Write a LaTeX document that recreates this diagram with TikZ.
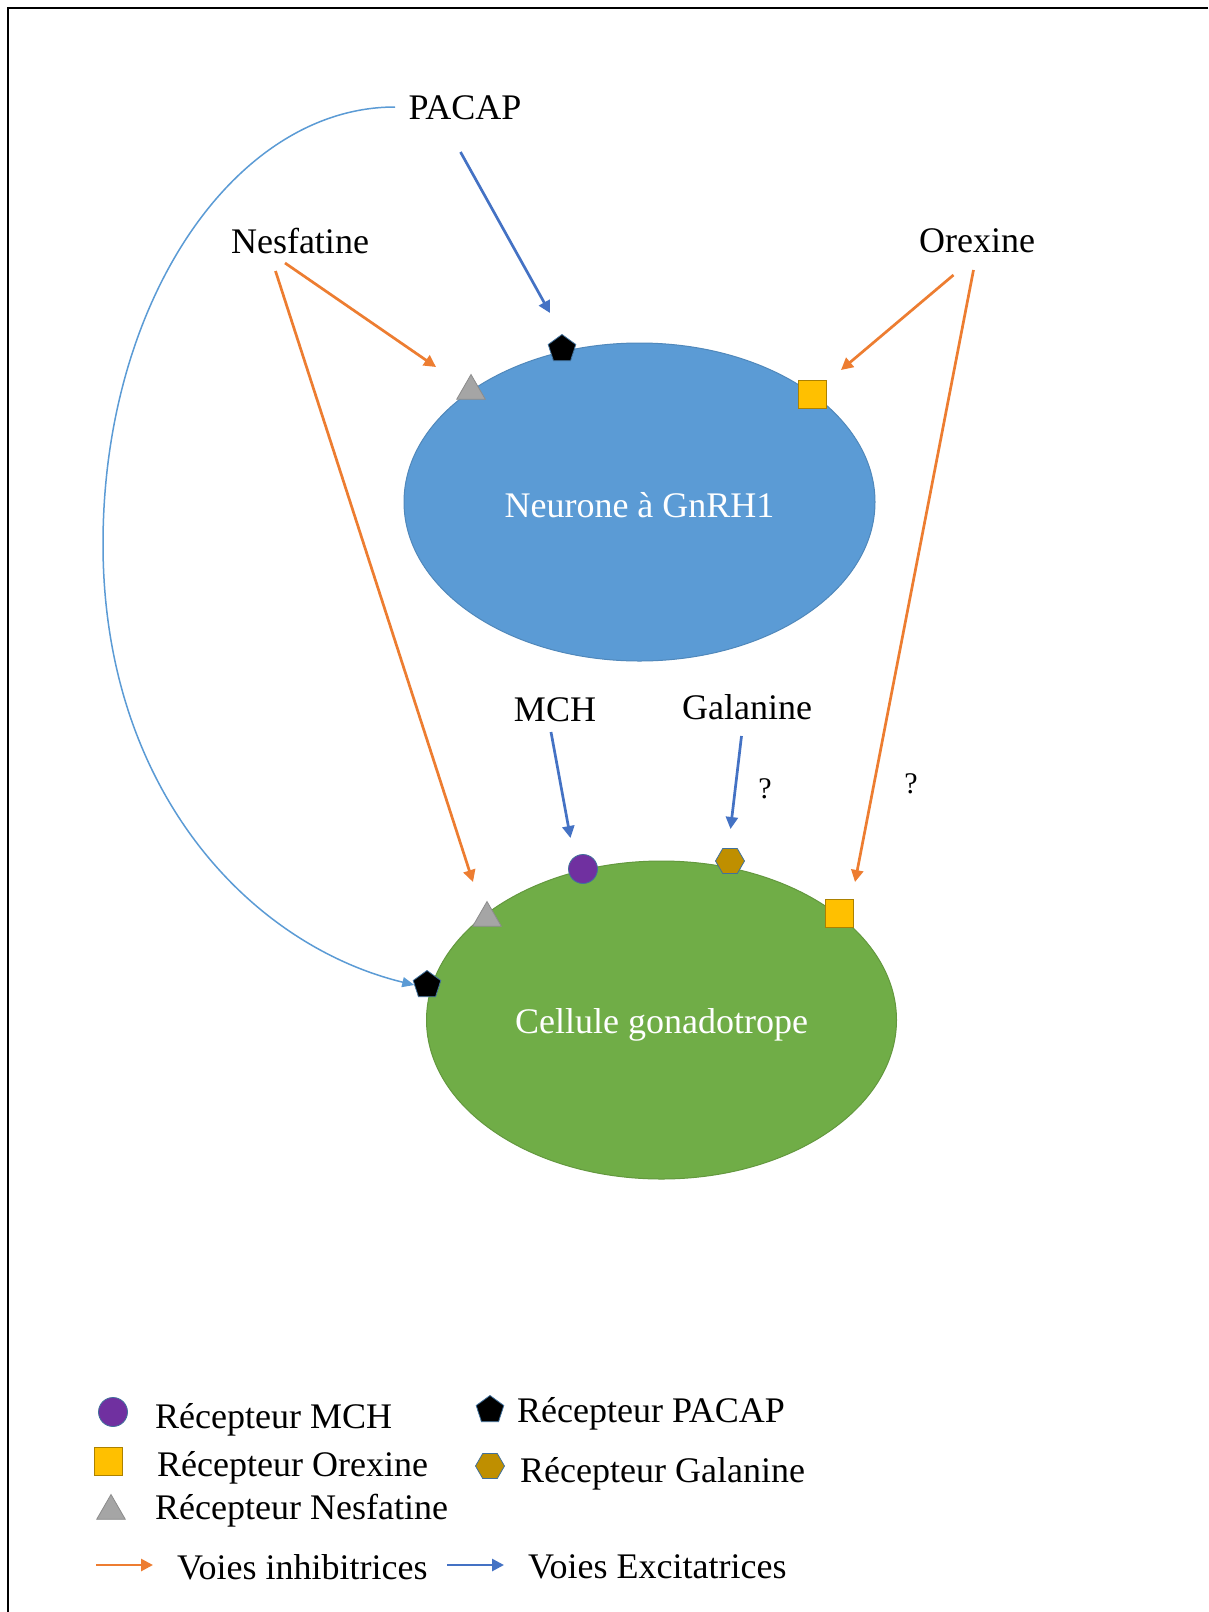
\documentclass[tikz,border=0pt]{standalone}
\usepackage{fontspec}
\setmainfont{Liberation Serif}
\usetikzlibrary{shapes.geometric,arrows.meta}
\definecolor{cellblue}{HTML}{5B9BD5}
\definecolor{cellgreen}{HTML}{70AD47}
\definecolor{inhib}{HTML}{ED7D31}
\definecolor{excit}{HTML}{4472C4}
\definecolor{curveblue}{HTML}{5B9BD5}
\definecolor{recgray}{HTML}{A5A5A5}
\definecolor{recyellow}{HTML}{FFC000}
\definecolor{recpurple}{HTML}{7030A0}
\definecolor{recgold}{HTML}{BF8F00}
\definecolor{recedge}{HTML}{41719C}
\begin{document}
\begin{tikzpicture}[x=1pt,y=-1pt,
 lbl/.style={font=\fontsize{36}{40}\selectfont, inner sep=0pt},
 qlbl/.style={font=\fontsize{30}{34}\selectfont, inner sep=0pt},
 cell/.style={ellipse, inner sep=0pt, text=white, font=\fontsize{36}{40}\selectfont, line width=1pt},
 inh/.style={draw=inhib, line width=2.7pt, -{Triangle[length=12pt,width=12pt]}},
 exc/.style={draw=excit, line width=2.7pt, -{Triangle[length=12pt,width=12pt]}},
 pacrec/.style={regular polygon, regular polygon sides=5, minimum size=29pt, inner sep=0pt, fill=black, draw=recedge, line width=0.8pt},
 nesrec/.style={regular polygon, regular polygon sides=3, minimum size=33pt, inner sep=0pt, fill=recgray, draw=recgray!85!black, line width=0.8pt},
 orxrec/.style={rectangle, minimum width=28pt, minimum height=28pt, inner sep=0pt, fill=recyellow, draw=recgold!90!black, line width=0.8pt},
 mchrec/.style={circle, minimum size=29pt, inner sep=0pt, fill=recpurple, draw=recedge, line width=0.8pt},
 galrec/.style={regular polygon, regular polygon sides=6, minimum size=29pt, inner sep=0pt, fill=recgold, draw=recedge, line width=0.8pt},
 legtext/.style={font=\fontsize{36}{40}\selectfont, inner sep=0pt, anchor=west}
]
\useasboundingbox (0,0) rectangle (1208,1612);
\fill[white] (0,0) rectangle (1208,1612);
% frame
\draw[line width=2pt] (1208,8) -- (8,8) -- (8,1612);

% cells
\node[cell, fill=cellblue, draw=cellblue!88!black, minimum width=471pt, minimum height=318pt] (neuron) at (639.5,502) {};
\node[text=white, font=\fontsize{36}{40}\selectfont, inner sep=0pt] (neurontxt) at (neuron.center) [yshift=-3pt] {Neurone à GnRH1};
\node[cell, fill=cellgreen, draw=cellgreen!88!black, minimum width=470pt, minimum height=318pt] (gonado) at (661.5,1020) {};
\node[text=white, font=\fontsize{36}{40}\selectfont, inner sep=0pt] (gonadotxt) at (gonado.center) [yshift=-5pt] {Cellule gonadotrope};

% receptors on neuron
\node[pacrec] (npac) at (562,349) {};
\node[nesrec] (nnes) at (471,391) {};
\node[orxrec] (norx) at (812,394) {};
% receptors on gonadotrope
\node[mchrec] (gmch) at (583,869) {};
\node[galrec] (ggal) at (730,861) {};
\node[nesrec] (gnes) at (487,918) {};
\node[orxrec] (gorx) at (839,913) {};
\node[pacrec] (gpac) at (427,985) {};

% labels
\node[lbl] (pacap) at (465,108) {PACAP};
\node[lbl] (nesf) at (300,241) {Nesfatine};
\node[lbl] (orex) at (977,241) {Orexine};
\node[lbl] (mch) at (555,710) {MCH};
\node[lbl] (gal) at (747,707) {Galanine};
\node[qlbl] (q1) at (765,789) {?};
\node[qlbl] (q2) at (911,784) {?};

% arrow end points
\coordinate (pacS) at (460.5,152);
\coordinate (pacE) at (550,313);
\coordinate (nes1S) at (285,263);
\coordinate (nes1E) at (436,367);
\coordinate (nes2S) at (275.5,271);
\coordinate (nes2E) at (473,882);
\coordinate (orx1S) at (953.5,275);
\coordinate (orx1E) at (841,370);
\coordinate (orx2S) at (973.5,270);
\coordinate (orx2E) at (855,882);
\coordinate (mchS) at (551,732);
\coordinate (mchE) at (570.5,838);
\coordinate (galS) at (741.5,736);
\coordinate (galE) at (730.5,829);
\coordinate (curveS) at (395,107);
\coordinate (curveM) at (103,544);

\draw[exc] (pacS) -- (pacE);
\draw[inh] (nes1S) -- (nes1E);
\draw[inh] (nes2S) -- (nes2E);
\draw[inh] (orx1S) -- (orx1E);
\draw[inh] (orx2S) -- (orx2E);
\draw[exc] (mchS) -- (mchE);
\draw[exc] (galS) -- (galE);

% PACAP long curve to gonadotrope
\draw[draw=curveblue, line width=1.5pt, -{Triangle[length=12pt,width=10pt]}]
  (curveS) .. controls (236,107) and (103,300) .. (curveM)
  .. controls (103,790) and (250,945) .. (gpac.west);

% legend
\node[mchrec] (lmch) at (113,1412) {};
\node[legtext] (tmch) at (155,1420) {Récepteur MCH};
\node[orxrec] (lorx) at (108,1461) {};
\node[legtext] (torx) at (157,1468) {Récepteur Orexine};
\node[nesrec] (lnes) at (111,1511) {};
\node[legtext] (tnes) at (155,1511) {Récepteur Nesfatine};
\node[pacrec] (lpac) at (490,1410) {};
\node[legtext] (tpac) at (517,1414) {Récepteur PACAP};
\node[galrec] (lgal) at (490,1466) {};
\node[legtext] (tgal) at (520,1474) {Récepteur Galanine};

\coordinate (linhS) at (96,1565);
\coordinate (linhE) at (153,1565);
\coordinate (lexcS) at (447,1565);
\coordinate (lexcE) at (504,1565);
\draw[inh] (linhS) -- (linhE);
\draw[exc] (lexcS) -- (lexcE);
\node[legtext] (tinh) at (177,1567) {Voies inhibitrices};
\node[legtext] (texc) at (528,1567) {Voies Excitatrices};
\end{tikzpicture}
\end{document}
